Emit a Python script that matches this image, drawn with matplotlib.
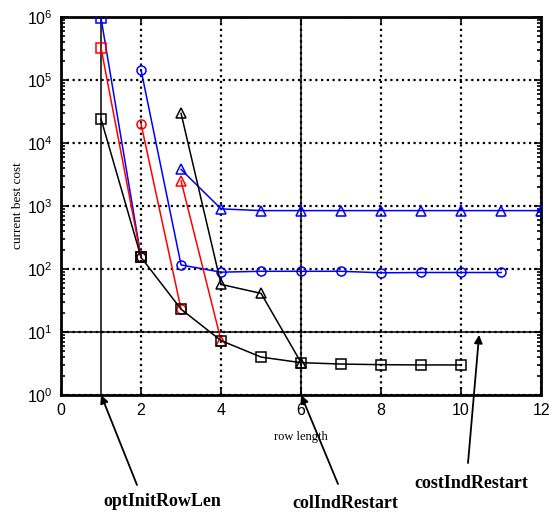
import numpy as np
import matplotlib.pyplot as plt
from matplotlib.ticker import LogLocator, FuncFormatter, NullFormatter

plt.rcParams['mathtext.fontset'] = 'custom'
plt.rcParams['mathtext.rm'] = 'Liberation Sans'
plt.rcParams['mathtext.it'] = 'Liberation Sans'
plt.rcParams['font.family'] = 'Liberation Sans'

# row length -> current best cost, one list per run
sq_x = [1, 2, 3, 4, 5, 6, 7, 8, 9, 10]
black_sq = [2.4e4, 153, 23, 7.3, 4.0, 3.26, 3.1, 3.03, 3.0, 3.0]
red_sq_x = [1, 2]
red_sq = [3.2e5, 153]
blue_sq_x = [1, 2]
blue_sq = [9.5e5, 153]

black_ci_x = [2]
black_ci = [153]
red_ci_x = [2, 3]
red_ci = [2.0e4, 23]
blue_ci_x = [2, 3, 4, 5, 6, 7, 8, 9, 10, 11]
blue_ci = [1.44e5, 116, 89, 92, 92, 92, 87, 88, 88, 88]

black_tr_x = [3, 4, 5, 6]
black_tr = [2.95e4, 57, 41, 3.26]
red_tr_x = [3, 4]
red_tr = [2.5e3, 7.3]
blue_tr_x = [3, 4, 5, 6, 7, 8, 9, 10, 11, 12]
blue_tr = [3.8e3, 900, 845, 845, 845, 845, 845, 845, 845, 845]

# marker lines for the restart parameters
opt_init_row_len = 1
col_ind_restart = 6
cost_ind_restart = 10

fig = plt.figure(figsize=(5.55, 5.15), dpi=100)
ax = fig.add_axes([0.110, 0.233, 0.865, 0.734])

ax.axvline(opt_init_row_len, color='black', lw=1.1, zorder=1)
ax.axvline(col_ind_restart, color='black', lw=1.1, zorder=1)
ax.axhline(cost_ind_restart, color='black', lw=1.1, zorder=1)

mk = dict(markerfacecolor='none', markersize=6.5, markeredgewidth=1.1, lw=1.1, zorder=3)
ax.plot(blue_sq_x, blue_sq, color='blue', marker='s', **mk)
ax.plot(blue_ci_x, blue_ci, color='blue', marker='o', **mk)
ax.plot(blue_tr_x, blue_tr, color='blue', marker='^', **mk)
ax.plot(red_sq_x, red_sq, color='red', marker='s', **mk)
ax.plot(red_ci_x, red_ci, color='red', marker='o', **mk)
ax.plot(red_tr_x, red_tr, color='red', marker='^', **mk)
ax.plot(sq_x, black_sq, color='black', marker='s', **mk)
ax.plot(black_ci_x, black_ci, color='black', marker='o', **mk)
ax.plot(black_tr_x, black_tr, color='black', marker='^', **mk)

ax.set_yscale('log')
ax.set_xlim(0, 12)
ax.set_ylim(1, 1e6)
ax.set_xticks(range(0, 13, 2))
ax.yaxis.set_major_locator(LogLocator(base=10, numticks=10))
ax.yaxis.set_minor_locator(LogLocator(base=10, subs=np.arange(2, 10), numticks=10))
ax.yaxis.set_minor_formatter(NullFormatter())
ax.yaxis.set_major_formatter(FuncFormatter(lambda v, p: r'$10^{%d}$' % round(np.log10(v))))

ax.grid(True, which='major', color='black', linestyle=(0, (1, 1.6)), linewidth=1.6)
ax.tick_params(which='both', direction='in', top=True, right=True, labelsize=11.5, width=1.2)
ax.tick_params(which='major', length=5, pad=6)
ax.tick_params(which='minor', length=3)
for s in ax.spines.values():
    s.set_linewidth(2)

ax.set_xlabel('row length', family='Liberation Serif', fontsize=9, labelpad=9)
ax.set_ylabel('current best cost', family='Liberation Serif', fontsize=9.5, labelpad=2)

# arrows (figure pixels, origin bottom-left) and their labels
arrow = dict(arrowstyle='-|>', color='black', lw=1.3, mutation_scale=12, shrinkA=0, shrinkB=0)
lab = dict(family='Liberation Serif', fontsize=13, fontweight='bold', ha='center', va='center')
ax.annotate('', xy=(opt_init_row_len, 1), xycoords='data',
            xytext=(137, 30), textcoords='figure pixels', annotation_clip=False, arrowprops=arrow)
ax.annotate('', xy=(col_ind_restart, 1), xycoords='data',
            xytext=(338, 31), textcoords='figure pixels', annotation_clip=False, arrowprops=arrow)
ax.annotate('', xy=(10.45, 9.0), xycoords='data',
            xytext=(468, 52), textcoords='figure pixels', annotation_clip=False, arrowprops=arrow)
fig.text(162 / 555, 13 / 515, 'optInitRowLen', **lab)
fig.text(345 / 555, 11 / 515, 'colIndRestart', **lab)
fig.text(471 / 555, 32 / 515, 'costIndRestart', **lab)

fig.savefig('out.png', dpi=100)
